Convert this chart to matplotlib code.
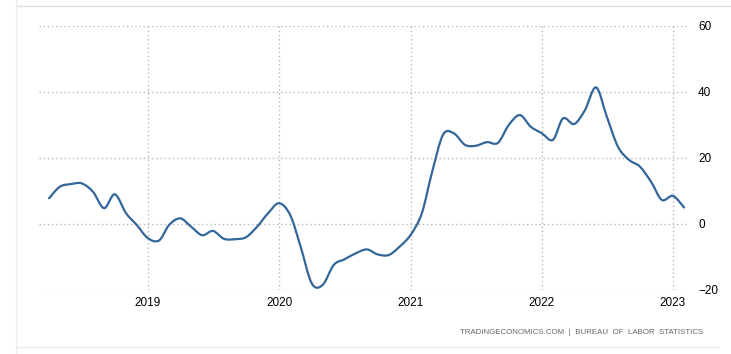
import numpy as np
import pandas as pd
import matplotlib
matplotlib.use("Agg")
import matplotlib.pyplot as plt
import matplotlib.dates as mdates
from matplotlib.path import Path
from matplotlib.patches import PathPatch

# monthly values, Apr 2018 .. Feb 2023
months = pd.date_range("2018-04-01", "2023-02-01", freq="MS")
values = [
    7.8, 11.3, 12.1, 12.3, 9.8, 4.8, 9.0, 3.3, -0.3,          # 2018 Apr-Dec
    -4.3, -5.0, -0.3, 1.7, -0.8, -3.4, -2.1, -4.5, -4.6, -4.0, -0.8, 3.2,  # 2019
    6.3, 2.7, -6.9, -18.0, -18.5, -12.4, -10.7, -8.9, -7.7, -9.2, -9.4, -6.9,  # 2020
    -3.3, 3.2, 15.4, 27.0, 27.5, 24.0, 23.7, 24.8, 24.6, 30.0, 33.0, 29.5,  # 2021
    27.5, 25.5, 32.0, 30.3, 34.5, 41.4, 32.5, 23.4, 19.4, 17.4, 12.8, 7.3,  # 2022
    8.5, 5.0,                                                  # 2023
]
year_ticks = ["2019", "2020", "2021", "2022", "2023"]
y_ticks = [-20, 0, 20, 40, 60]

line_color = "#336699"
grid_color = "#b8b8b8"

fig = plt.figure(figsize=(7.31, 3.54), dpi=100)
ax = fig.add_axes([39 / 731, 1 - 290 / 354, (687 - 39) / 731, (290 - 26) / 354])

# smooth curve through the monthly points (Catmull-Rom as cubic Bezier segments)
x = mdates.date2num(months.to_pydatetime())
y = np.asarray(values, dtype=float)
px = np.concatenate([[x[0]], x, [x[-1]]])
py = np.concatenate([[y[0]], y, [y[-1]]])
verts = [(x[0], y[0])]
codes = [Path.MOVETO]
for i in range(1, len(px) - 2):
    c1 = (px[i] + (px[i + 1] - px[i - 1]) / 6, py[i] + (py[i + 1] - py[i - 1]) / 6)
    c2 = (px[i + 1] - (px[i + 2] - px[i]) / 6, py[i + 1] - (py[i + 2] - py[i]) / 6)
    verts += [c1, c2, (px[i + 1], py[i + 1])]
    codes += [Path.CURVE4] * 3
ax.add_patch(PathPatch(Path(verts, codes), facecolor="none", edgecolor=line_color,
                       lw=1.6, capstyle="round", joinstyle="round", zorder=3))

ax.set_xlim(mdates.date2num(pd.Timestamp("2018-03-04")), mdates.date2num(pd.Timestamp("2023-02-09")))
ax.set_ylim(-20, 60)
ax.set_xticks(mdates.date2num([pd.Timestamp(f"{t}-01-01") for t in year_ticks]))
ax.set_xticklabels(year_ticks)
ax.set_yticks(y_ticks)
ax.yaxis.tick_right()

for s in ax.spines.values():
    s.set_visible(False)
ax.grid(True, color=grid_color, linestyle=(0, (1, 2)), linewidth=1)
ax.set_axisbelow(True)
ax.tick_params(length=0, labelsize=8.5, labelcolor="#000000", pad=5)
for lab in ax.get_xticklabels() + ax.get_yticklabels():
    lab.set_family("Liberation Sans")
ax.tick_params(axis="y", pad=8)

# light outer frame
fig.add_artist(plt.Line2D([16 / 731, 16 / 731], [0, 1], color="#eeeeee", lw=1))
fig.add_artist(plt.Line2D([17 / 731, 1], [1 - 6 / 354] * 2, color="#dddddd", lw=1))
fig.add_artist(plt.Line2D([17 / 731, 718 / 731], [1 - 347 / 354] * 2, color="#eeeeee", lw=1))

fig.text(703 / 731, 1 - 332 / 354, "TRADINGECONOMICS.COM  |  BUREAU  OF  LABOR  STATISTICS",
         ha="right", va="center", fontsize=5.7, color="#666666", family="Liberation Sans")

fig.savefig("out.png", dpi=100, facecolor="white")
